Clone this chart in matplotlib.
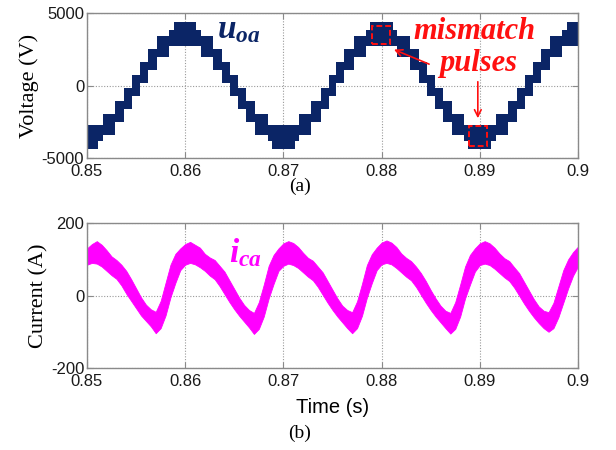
import numpy as np
import matplotlib.pyplot as plt
from matplotlib.patches import Rectangle

plt.rcParams["axes.unicode_minus"] = False
plt.rcParams["mathtext.fontset"] = "custom"
plt.rcParams["mathtext.it"] = "Liberation Serif:bold:italic"
plt.rcParams["mathtext.rm"] = "Liberation Serif:bold"

# output voltage u_oa: staircase steps (start time, level index)
step_t = [
    0.85000, 0.85115, 0.85161, 0.85285, 0.85378, 0.85460, 0.85540, 0.85622,
    0.85715, 0.85839, 0.85885, 0.86115, 0.86161, 0.86285, 0.86378, 0.86460,
    0.86540, 0.86622, 0.86715, 0.86839, 0.86885, 0.87115, 0.87161, 0.87285,
    0.87378, 0.87460, 0.87540, 0.87622, 0.87715, 0.87839, 0.87885, 0.88115,
    0.88161, 0.88285, 0.88378, 0.88460, 0.88540, 0.88622, 0.88715, 0.88839,
    0.88885, 0.89115, 0.89161, 0.89285, 0.89378, 0.89460, 0.89540, 0.89622,
    0.89715, 0.89839, 0.89885,
]
step_level = [
    -5, -4, -3, -2, -1, 0, 1, 2, 3, 4, 5,
    4, 3, 2, 1, 0, -1, -2, -3, -4, -5,
    -4, -3, -2, -1, 0, 1, 2, 3, 4, 5,
    4, 3, 2, 1, 0, -1, -2, -3, -4, -5,
    -4, -3, -2, -1, 0, 1, 2, 3, 4, 5,
]
t_end = 0.90

# PWM band of each level (V)
level_ids = [-5, -4, -3, -2, -1, 0, 1, 2, 3, 4, 5]
level_low = [-4350, -3800, -3400, -2500, -1600, -700, 200, 1100, 2000, 2700, 2700]
level_high = [-2700, -2700, -2000, -1100, -200, 700, 1600, 2500, 3400, 3800, 4350]

# circulating current i_ca: ripple envelope every 0.5 ms (A)
i_t = np.round(np.arange(0.85, 0.90001, 0.0005), 5)
i_upper = [
    130, 142, 150, 140, 125, 108, 98, 85, 68, 45,
    20, -5, -25, -38, -45, -15, 35, 85, 115, 130,
    142, 148, 140, 132, 115, 105, 98, 82, 66, 42,
    18, -6, -26, -40, -48, -18, 30, 82, 112, 130,
    144, 150, 145, 134, 118, 104, 96, 80, 64, 40,
    16, -8, -28, -40, -46, -16, 32, 84, 114, 132,
    146, 152, 146, 134, 116, 104, 95, 80, 62, 40,
    15, -8, -28, -42, -48, -18, 30, 80, 112, 130,
    144, 150, 144, 132, 116, 103, 95, 78, 62, 38,
    14, -10, -30, -42, -46, -20, 25, 70, 100, 120,
    135,
]
i_lower = [
    85, 90, 88, 80, 68, 56, 46, 28, 5, -15,
    -35, -55, -70, -85, -104, -90, -55, -5, 35, 70,
    85, 90, 86, 78, 68, 55, 45, 26, 4, -18,
    -38, -56, -72, -88, -106, -92, -58, -8, 32, 68,
    82, 88, 84, 76, 64, 52, 42, 24, 2, -20,
    -40, -58, -74, -90, -104, -90, -56, -6, 34, 70,
    86, 90, 86, 76, 64, 52, 42, 24, 2, -20,
    -40, -58, -74, -90, -105, -92, -58, -8, 30, 66,
    84, 88, 84, 74, 62, 50, 40, 22, 0, -22,
    -42, -60, -76, -90, -100, -90, -60, -20, 20, 55,
    80,
]

x_ticks = [0.85, 0.86, 0.87, 0.88, 0.89, 0.90]
x_ticklabels = ["0.85", "0.86", "0.87", "0.88", "0.89", "0.9"]
v_ticks = [-5000, 0, 5000]
i_ticks = [-200, 0, 200]

# mismatch markers (t0, v0, width, height)
mismatch_boxes = [(0.87899, 2830, 0.00187, 1260), (0.88893, -4190, 0.00177, 1430)]

navy = "#0b2566"
magenta = "#ff00ff"
red = "#ff1010"
gray = "#8a8a8a"

fig = plt.figure(figsize=(6.16, 4.5), dpi=100)
ax1 = fig.add_axes([0.1412, 0.6489, 0.7971, 0.3222])
ax2 = fig.add_axes([0.1412, 0.1822, 0.7971, 0.3222])


def style_axes(ax, yticks):
    ax.set_xlim(0.85, 0.90)
    ax.set_ylim(yticks[0], yticks[-1])
    ax.set_xticks(x_ticks)
    ax.set_xticklabels(x_ticklabels)
    ax.set_yticks(yticks)
    ax.set_yticklabels([str(v) for v in yticks])
    ax.grid(True, color="#9a9a9a", linestyle=(0, (1, 1.5)), linewidth=0.8)
    ax.set_axisbelow(True)
    for sp in ax.spines.values():
        sp.set_color(gray)
        sp.set_linewidth(1.0)
    ax.tick_params(direction="in", length=4, width=0.8, color=gray,
                   labelsize=12, labelcolor="#1a1a1a", pad=2,
                   top=True, right=True)
    ax.tick_params(axis="x", pad=4)
    for lab in ax.get_xticklabels() + ax.get_yticklabels():
        lab.set_family("Liberation Sans")


# voltage staircase
lo = dict(zip(level_ids, level_low))
hi = dict(zip(level_ids, level_high))
t_edges = step_t + [t_end]
v_low = [lo[k] for k in step_level] + [lo[step_level[-1]]]
v_high = [hi[k] for k in step_level] + [hi[step_level[-1]]]
ax1.fill_between(t_edges, v_low, v_high, step="post", color=navy, linewidth=0)
style_axes(ax1, v_ticks)
ax1.set_ylabel("Voltage (V)", family="Liberation Serif", fontsize=16, labelpad=2)

for t0, v0, w, h in mismatch_boxes:
    ax1.add_patch(Rectangle((t0, v0), w, h, fill=False, edgecolor=red,
                            linestyle=(0, (3, 1.5)), linewidth=1.4, zorder=5))

ax1.text(0.8654, 3900, r"$u_{oa}$", color=navy, fontsize=24,
         ha="center", va="center")
ax1.text(0.8895, 3700, "mismatch", color=red, fontsize=22,
         family="Liberation Serif", weight="bold", style="italic",
         ha="center", va="center")
ax1.text(0.8898, 1500, "pulses", color=red, fontsize=22,
         family="Liberation Serif", weight="bold", style="italic",
         ha="center", va="center")
ax1.annotate("", xy=(0.8810, 2550), xytext=(0.8851, 1400),
             arrowprops=dict(arrowstyle="->", color=red, lw=1.2,
                             mutation_scale=12))
ax1.annotate("", xy=(0.8898, -2450), xytext=(0.8898, 450),
             arrowprops=dict(arrowstyle="->", color=red, lw=1.2,
                             mutation_scale=12))

# circulating current
ax2.fill_between(i_t, i_lower, i_upper, color=magenta, linewidth=0.6,
                 edgecolor=magenta)
style_axes(ax2, i_ticks)
ax2.set_ylabel("Current (A)", family="Liberation Serif", fontsize=16, labelpad=2)
ax2.set_xlabel("Time (s)", family="Liberation Sans", fontsize=14.5, labelpad=7)
ax2.text(0.8661, 118, r"$i_{ca}$", color=magenta, fontsize=24,
         ha="center", va="center")

fig.text(0.487, 0.587, "(a)", family="Liberation Serif", fontsize=14,
         ha="center", va="center")
fig.text(0.487, 0.038, "(b)", family="Liberation Serif", fontsize=14,
         ha="center", va="center")

fig.savefig("out.png", dpi=100)
